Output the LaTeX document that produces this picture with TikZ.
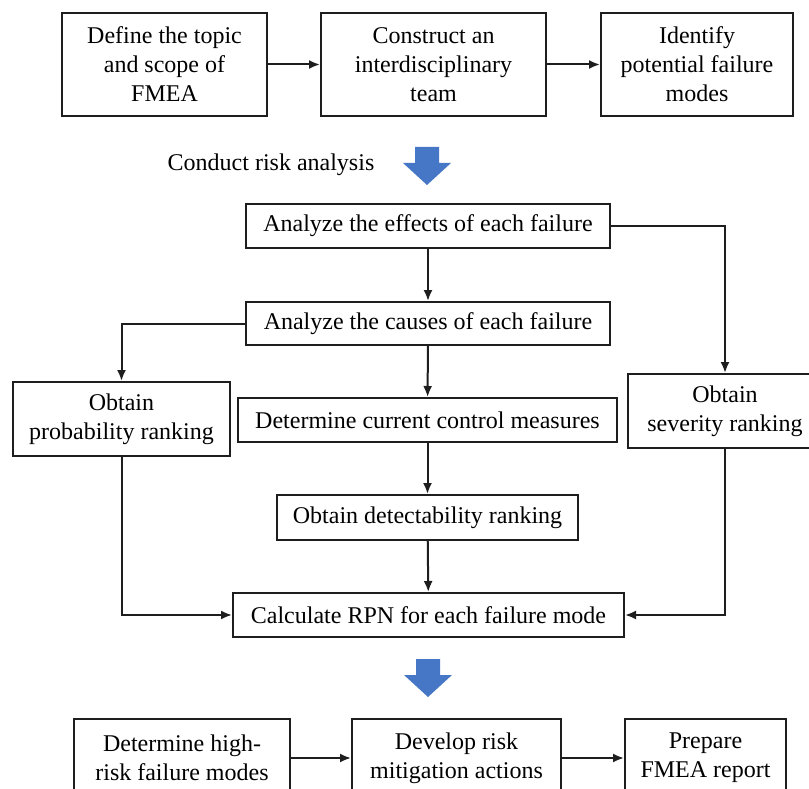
\documentclass[tikz,border=0pt]{standalone}
\usepackage{fontspec}
\setmainfont{Liberation Serif}
\usetikzlibrary{positioning,arrows.meta}
\definecolor{BoxLine}{RGB}{30,30,30}
\definecolor{StepBlue}{RGB}{70,118,198}

\begin{document}
\begin{tikzpicture}[
  x=1pt, y=-1pt,
  font=\rmfamily\fontsize{24}{29}\selectfont,
  >={Latex[length=11pt,width=9pt]},
  stepbox/.style={
    rectangle, draw=BoxLine, line width=2pt, fill=white,
    align=center, inner sep=0pt
  },
  plain/.style={inner sep=0pt, align=center},
  flow/.style={->, draw=BoxLine, line width=2pt},
  bigarrow/.style={fill=StepBlue}
]
\useasboundingbox (0,0) rectangle (809,789);
\clip (0,0) rectangle (809,789);

% Preparation row
\node[stepbox, minimum width=205pt, minimum height=103pt] (define) at (164.5,64.5) {Define the topic\\and scope of\\FMEA};
\node[stepbox, minimum width=225pt, minimum height=103pt] (team) at (433.5,64.5) {Construct an\\interdisciplinary\\team};
\node[stepbox, minimum width=192pt, minimum height=103pt] (modes) at (697,64.5) {Identify\\potential failure\\modes};

% Risk analysis
\node[plain] (conduct) at (271,165) {Conduct risk analysis};
\coordinate (downA) at (427,147);

\node[stepbox, minimum width=364pt, minimum height=44pt] (effects) at (428,226) {Analyze the effects of each failure};
\node[stepbox, minimum width=364pt, minimum height=43pt] (causes) at (428,323.5) {Analyze the causes of each failure};
\node[stepbox, minimum width=217pt, minimum height=74pt] (prob) at (121.5,419) {Obtain\\probability ranking};
\node[stepbox, minimum width=379pt, minimum height=44pt] (control) at (427.5,420) {Determine current control measures};
\node[stepbox, minimum width=194pt, minimum height=74pt] (severity) at (725,411) {Obtain\\severity ranking};
\node[stepbox, minimum width=301pt, minimum height=45pt] (detect) at (427.5,517.5) {Obtain detectability ranking};
\node[stepbox, minimum width=391pt, minimum height=44pt] (rpn) at (428.5,615) {Calculate RPN for each failure mode};

% Follow-up row
\coordinate (downB) at (428,659);
\node[stepbox, minimum width=216pt, minimum height=78pt] (highrisk) at (182,758) {Determine high-\\risk failure modes};
\node[stepbox, minimum width=209pt, minimum height=78pt] (mitigate) at (456.5,758) {Develop risk\\mitigation actions};
\node[stepbox, minimum width=161pt, minimum height=78pt] (report) at (705.5,758) {Prepare\\FMEA report};

% --- block arrows ---
\fill[bigarrow] (downA) +(-12,0) -- +(12,0) -- +(12,16) -- +(24,16) -- +(0,38) -- +(-24,16) -- +(-12,16) -- cycle;
\fill[bigarrow] (downB) +(-12,0) -- +(12,0) -- +(12,16) -- +(24,16) -- +(0,38) -- +(-24,16) -- +(-12,16) -- cycle;

% --- edges ---
\draw[flow] (define) -- (team);
\draw[flow] (team) -- (modes);
\draw[flow] (effects) -- (causes);
\draw[flow] (effects.east) -| (severity.north);
\draw[flow] (causes.west) -| (prob.north);
\draw[flow] (causes) -- (control);
\draw[flow] (control) -- (detect);
\draw[flow] (detect) -- (rpn);
\draw[flow] (prob.south) |- (rpn.west);
\draw[flow] (severity.south) |- (rpn.east);
\draw[flow] (highrisk) -- (mitigate);
\draw[flow] (mitigate) -- (report);

\end{tikzpicture}
\end{document}
